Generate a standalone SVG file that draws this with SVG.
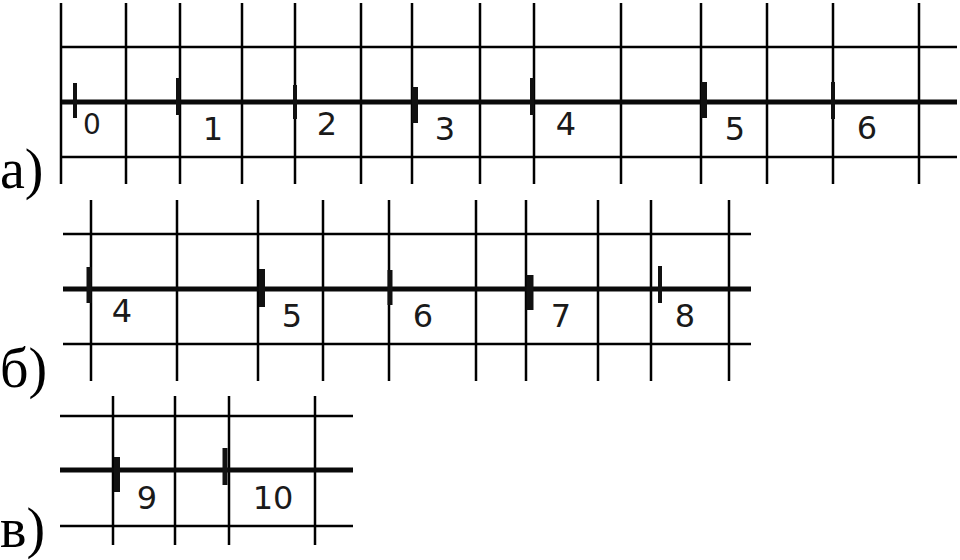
<svg xmlns="http://www.w3.org/2000/svg" width="960" height="560" viewBox="0 0 960 560">
<style>
.g{stroke:#000;stroke-width:2.5;fill:none}
.ax{stroke:#0a0a0a;stroke-width:5;fill:none}
.tk{stroke:#111;fill:none}
.n{font-family:"DejaVu Sans",Verdana,sans-serif;font-size:32px;fill:#1a1a1a;text-anchor:middle}
.lb{font-family:"Liberation Serif","Times New Roman",serif;font-size:56px;fill:#000}
</style>
<rect width="960" height="560" fill="#fff"/>
<g id="part-a">
<path class="g" d="M61 3V184M126 3V184M180 3V184M242 3V184M295 3V184M361 3V184M412 3V184M480 3V184M534 3V184M621 3V184M701 3V184M767 3V184M833 3V184M919 3V184M60 47H957M60 157H957"/>
<path class="ax" d="M62 102H957"/>
<path class="tk" stroke-width="4" d="M75 83V118M178 78V115M295 85V119M532 78V115M833 82V119"/>
<path class="tk" stroke-width="6" d="M415 87V123M704 82V118"/>
<text class="n" x="92" y="134" style="font-size:28px">0</text>
<text class="n" x="213" y="140">1</text>
<text class="n" x="327" y="135">2</text>
<text class="n" x="445" y="140">3</text>
<text class="n" x="566" y="135">4</text>
<text class="n" x="735" y="140">5</text>
<text class="n" x="867" y="139">6</text>
<text class="lb" x="0" y="188">а)</text>
</g>
<g id="part-b">
<path class="g" d="M91 200V381M177 200V381M258 200V381M323 200V381M389 200V381M476 200V381M526 200V381M598 200V381M651 200V381M729 200V381M63 234H751M63 344H751"/>
<path class="ax" d="M63 289H751"/>
<path class="tk" stroke-width="5" d="M89 267V303M390 270V305"/>
<path class="tk" stroke-width="6" d="M262 269V307"/>
<path class="tk" stroke-width="7" d="M530 275V310"/>
<path class="tk" stroke-width="4" d="M660 266V303"/>
<text class="n" x="122" y="322">4</text>
<text class="n" x="292" y="327">5</text>
<text class="n" x="423" y="327">6</text>
<text class="n" x="561" y="327">7</text>
<text class="n" x="685" y="327">8</text>
<text class="lb" x="0" y="387">б)</text>
</g>
<g id="part-c">
<path class="g" d="M113 396V545M175 396V545M229 396V545M315 396V545M60 416H353M60 526H353"/>
<path class="ax" d="M60 470H353"/>
<path class="tk" stroke-width="6" d="M117 457V492"/>
<path class="tk" stroke-width="5" d="M225 448V485"/>
<text class="n" x="147" y="509">9</text>
<text class="n" x="273" y="509">10</text>
<text class="lb" x="0" y="547">в)</text>
</g>
</svg>
